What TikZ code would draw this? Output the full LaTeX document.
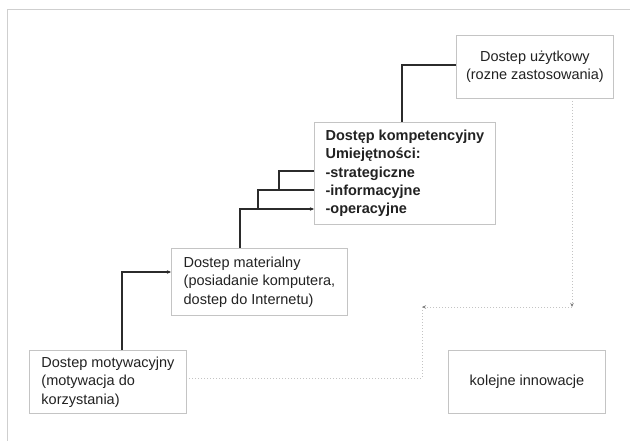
\documentclass[tikz,border=0pt]{standalone}
\usepackage{fontspec}
\setmainfont{Liberation Sans}
\usetikzlibrary{arrows.meta}
\definecolor{boxgray}{HTML}{C4C4C4}
\definecolor{framegray}{HTML}{CFCFCF}
\definecolor{dotgray}{HTML}{C4C4C4}
\definecolor{linedark}{HTML}{2B2B2B}
\definecolor{txt}{HTML}{222222}
\tikzset{
  box/.style={draw=boxgray, line width=0.9pt, anchor=north west, text=txt,
    font=\fontsize{14.5}{18.5}\selectfont, inner sep=0pt},
  leftbox/.style={box, align=left},
  centbox/.style={box, align=center},
  conn/.style={draw=linedark, line width=1.3pt},
  arr/.style={conn, -{Stealth[length=4pt,width=3.5pt]}},
  dotl/.style={draw=dotgray, line width=1pt, dotted},
  dotarr/.style={dotl, -{Stealth[length=4pt,width=3.5pt,color=gray]}},
}
\begin{document}
\begin{tikzpicture}[x=1pt,y=-1pt]
\useasboundingbox (0,0) rectangle (630,441);
\fill[white] (0,0) rectangle (630,441);
% frame
\draw[framegray, line width=1pt] (7,445) -- (7,10) -- (640,10);

% boxes
\node[leftbox, minimum width=157pt, minimum height=63pt] (mot) at (29,350)
  {Dostep motywacyjny\\(motywacja do\\korzystania)};
\node[leftbox, minimum width=176pt, minimum height=67pt] (mat) at (171,248)
  {Dostep materialny\\(posiadanie komputera,\\dostep do Internetu)};
\node[leftbox, minimum width=181pt, minimum height=102pt, font=\fontsize{14.5}{18.3}\selectfont\bfseries] (komp) at (314,122)
  {Dostęp kompetencyjny\\Umiejętności:\\-strategiczne\\-informacyjne\\-operacyjne};
\node[centbox, minimum width=157pt, minimum height=63pt] (uzy) at (456,35)
  {Dostep użytkowy\\(rozne zastosowania)};
\node[centbox, minimum width=157pt, minimum height=63pt] (kol) at (448,350)
  {kolejne innowacje};

% connector points
\coordinate (uin) at (456,65);
\coordinate (ktop) at (402,122);
\coordinate (ks) at (314,171);
\coordinate (ki) at (314,190);
\coordinate (ko) at (314,209);
\coordinate (c1) at (279,190);
\coordinate (c2) at (258,209);
\coordinate (mtop) at (240,248);
\coordinate (mottop) at (122,350);
\coordinate (matin) at (171,272);
\coordinate (ub) at (572,98);
\coordinate (d1) at (572,307);
\coordinate (d2) at (422,307);
\coordinate (me) at (186,378);

% solid connectors
\draw[conn] (uin) -| (ktop);
\draw[conn] (ks) -| (c1);
\draw[conn] (ki) -| (c2);
\draw[arr] (mtop) |- (ko);
\draw[arr] (mottop) |- (matin);

% dotted connectors
\draw[dotarr] (ub) -- (d1);
\draw[dotarr] (d1) -- (d2);
\draw[dotl] (d2) |- (me);
\end{tikzpicture}
\end{document}
